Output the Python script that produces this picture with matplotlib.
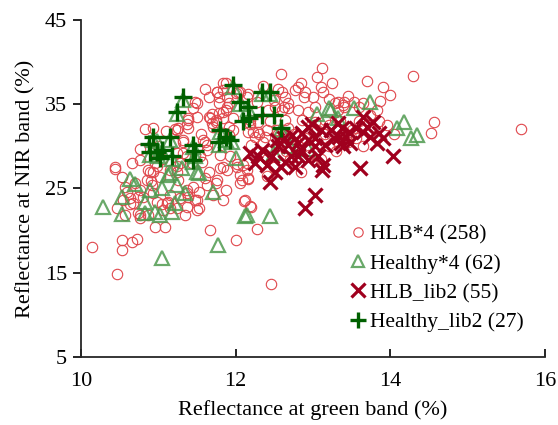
import matplotlib
matplotlib.use("Agg")
import matplotlib.pyplot as plt

# ---------------- data ----------------
hlb4_x = [10.44, 10.53, 10.70, 10.89, 10.92, 10.60, 10.76, 10.63, 10.74, 10.47, 10.63, 10.57, 10.76, 10.76, 10.87,
          10.96, 11.09, 10.98, 11.13, 11.15, 11.15, 11.06, 11.05, 11.24, 11.28, 11.37, 11.39, 11.52, 11.50, 11.52,
          11.45, 11.35, 11.67, 11.71, 10.14, 10.53, 10.53, 10.66, 10.73, 10.47, 10.93, 11.24, 11.26, 11.15, 10.90,
          12.02, 12.06, 12.06, 12.16, 11.83, 11.80, 11.87, 12.11, 12.20, 12.28, 12.01, 12.46, 11.74,
          11.76, 11.65, 11.48, 11.50, 11.67, 11.74, 11.37, 11.39, 11.22, 10.83, 10.93, 10.76, 11.32, 11.61, 11.63,
          10.44, 10.98, 11.24, 11.37, 11.70,
          13.12, 12.59, 13.25, 12.84, 12.81, 13.10, 12.90, 13.13, 12.60, 12.64, 12.77, 13.00, 12.88, 12.68, 12.62,
          13.03, 12.81, 12.93, 13.29, 13.39, 13.32, 12.86, 13.03, 13.16, 12.60, 12.64, 12.67, 12.54, 12.41, 12.29,
          12.19, 12.16, 12.25, 12.38, 12.15, 12.16, 12.03, 12.00, 11.84, 11.83, 11.78, 11.89, 11.89, 11.78, 11.84,
          11.74, 11.96, 12.19, 12.28, 12.49, 12.67, 12.51, 12.42, 11.96, 11.91, 11.83, 12.29, 12.45,
          13.70, 14.29, 13.91, 14.00, 13.87, 13.32, 13.40, 13.40, 13.59, 13.83, 14.56, 14.52, 15.69, 13.74, 13.64,
          13.53, 13.20,
          11.24, 11.32, 11.22, 11.58, 11.63, 11.65, 11.70, 11.78, 11.84, 11.91, 11.87, 12.06, 11.50, 11.39, 11.48,
          11.57, 11.65, 12.15, 10.87, 10.96, 10.85, 11.02, 11.61, 11.32, 11.80, 11.93, 12.02, 11.00,
          12.15, 12.10, 12.16, 12.08, 12.12, 12.19,
          12.45, 12.60, 12.75, 12.90, 13.05, 13.20, 13.35, 13.50, 13.60, 13.75, 13.85, 13.45, 13.20, 12.95, 12.70,
          12.50, 12.85, 13.10, 13.30, 13.65, 13.95, 14.05, 12.35, 12.55, 13.15, 13.40, 13.55, 12.80, 12.65, 12.40,
          11.87, 11.76, 11.26, 11.39, 11.71, 11.91, 12.22, 12.30, 11.89, 11.76, 11.63, 11.28, 11.44, 11.54, 11.24,
          10.76, 10.66, 10.57, 10.80, 10.54, 10.67, 10.93, 11.11, 11.37, 11.48, 11.84, 11.37, 11.50, 10.74, 11.05,
          10.95, 11.10, 11.55, 11.45, 11.60, 12.35, 12.55, 13.45, 13.05, 12.20, 12.40]
hlb4_y = [27.3, 26.4, 25.7, 26.9, 25.4, 24.6, 24.8, 23.9, 24.0, 22.7, 23.1, 21.9, 21.9, 21.5, 21.9,
          20.4, 20.4, 23.4, 23.4, 24.2, 22.7, 22.5, 23.1, 22.7, 23.9, 24.8, 24.0, 24.6, 23.6, 22.7,
          25.2, 21.9, 20.1, 24.2, 18.0, 18.9, 17.7, 18.7, 19.0, 14.9, 27.0, 26.9, 26.0, 27.2, 25.9,
          27.6, 26.6, 25.7, 26.1, 27.6, 27.4, 24.8, 23.5, 22.8, 20.2, 18.9, 13.7, 25.7,
          36.5, 35.8, 35.3, 33.5, 33.4, 32.9, 32.6, 32.2, 32.1, 32.1, 32.2, 29.7, 30.8, 30.5, 29.6,
          27.6, 27.7, 27.7, 28.8, 33.8,
          39.3, 38.6, 37.5, 37.5, 37.1, 37.0, 36.4, 36.4, 36.4, 35.9, 36.7, 35.8, 35.8, 35.2, 34.7,
          34.7, 34.3, 34.1, 35.2, 34.9, 34.3, 33.1, 32.9, 33.1, 34.3, 33.1, 32.2, 32.0, 32.0, 31.7,
          32.6, 31.7, 31.1, 31.1, 35.9, 36.2, 36.5, 36.3, 36.7, 37.5, 35.9, 35.9, 34.7, 35.2, 34.1,
          33.1, 33.4, 33.1, 35.3, 35.5, 34.6, 34.7, 34.3, 32.0, 31.4, 31.6, 32.9, 33.0,
          37.8, 38.3, 37.0, 36.1, 35.4, 35.3, 35.3, 34.7, 34.7, 34.3, 32.9, 31.6, 32.1, 33.7, 35.2,
          35.3, 35.6,
          32.0, 30.5, 30.4, 30.8, 30.2, 33.5, 32.8, 34.0, 33.4, 35.2, 34.3, 36.4, 35.2, 33.1, 29.0,
          28.2, 27.0, 27.2, 27.2, 28.0, 26.0, 26.4, 26.3, 29.2, 29.0, 28.8, 27.9, 30.0,
          28.0, 27.8, 26.3, 26.0, 23.6, 22.9,
          29.5, 30.5, 31.5, 31.0, 32.0, 32.5, 33.0, 32.0, 33.0, 32.0, 33.0, 30.5, 30.0, 29.0, 28.5,
          27.5, 27.0, 28.5, 29.5, 30.0, 32.5, 31.5, 30.5, 31.5, 31.5, 31.7, 31.0, 30.0, 29.5, 28.5,
          37.5, 36.4, 32.2, 33.4, 32.3, 32.3, 31.7, 31.5, 27.2, 26.0, 25.4, 28.0, 28.0, 28.8, 29.2,
          28.4, 28.0, 25.2, 24.0, 23.6, 23.3, 24.5, 23.3, 24.5, 23.6, 23.6, 22.8, 22.5, 22.1, 28.5,
          29.5, 31.8, 31.5, 34.5, 36.8, 37.2, 36.8, 36.0, 38.2, 30.2, 26.5]

healthy4_x = [10.28, 10.53, 10.63, 10.53, 10.89, 11.05, 10.83, 10.96, 11.02, 11.24, 11.22, 11.50, 11.71, 11.31,
              11.13, 11.05, 11.77, 12.12, 12.15, 12.45, 11.15, 11.52, 11.18, 10.83, 12.49,
              11.32, 11.24, 10.93, 10.98, 11.15, 10.89, 11.00, 11.18, 11.05, 11.45, 11.48, 11.45, 11.80, 11.87,
              11.78, 11.97, 12.06, 12.34, 12.45, 12.16, 12.58, 11.95, 12.00,
              13.20, 13.23, 13.32, 13.53, 13.74, 14.17, 14.09, 14.26, 14.35, 12.93,
              10.70, 11.35, 12.70, 13.05]
healthy4_y = [22.8, 22.0, 26.1, 24.0, 24.8, 25.0, 23.4, 22.2, 21.9, 25.4, 23.3, 26.9, 24.6, 27.4,
              26.6, 16.8, 18.3, 21.7, 21.8, 21.7, 26.8, 26.8, 22.2, 22.1, 29.2,
              35.5, 33.8, 30.8, 30.6, 30.8, 29.0, 28.8, 28.5, 29.3, 29.9, 28.9, 28.1, 31.7, 30.8,
              30.2, 37.0, 35.0, 36.2, 36.2, 34.4, 31.9, 30.5, 28.6,
              34.6, 34.3, 33.4, 34.6, 35.3, 32.9, 32.2, 31.0, 31.4, 29.7,
              25.5, 24.5, 30.0, 33.8]

hlb_lib2_x = [12.29, 12.25, 12.45, 12.51, 12.58, 12.64, 12.67, 12.77, 12.84, 12.93, 13.03, 12.99, 13.13, 13.12,
              13.03, 12.90, 13.23, 13.32, 13.38, 13.42, 13.48, 13.61, 13.64, 13.70, 13.78, 13.85, 13.91, 14.03,
              13.03, 13.16, 12.86, 12.93, 12.73, 12.80, 12.55, 12.62, 12.47, 12.41, 13.39, 13.46, 13.33, 13.74,
              13.83, 13.65, 12.93, 13.10, 13.27, 12.71, 12.81, 12.19, 12.34, 13.07, 13.36, 13.55, 12.54]
hlb_lib2_y = [28.8, 28.0, 25.8, 26.9, 27.6, 28.2, 30.2, 27.5, 29.6, 28.4, 31.0, 32.6, 27.8, 27.2,
              24.2, 22.7, 32.0, 32.8, 32.2, 31.1, 30.4, 27.4, 33.5, 32.3, 32.9, 31.6, 31.0, 28.8,
              30.0, 30.2, 31.6, 32.3, 31.4, 30.4, 30.0, 31.0, 28.8, 27.8, 30.0, 31.7, 31.1, 31.1,
              30.4, 31.7, 30.8, 32.0, 31.0, 28.8, 28.8, 29.2, 29.6, 28.8, 30.4, 32.2, 30.8]

healthy_lib2_x = [11.32, 11.24, 10.93, 11.15, 10.89, 10.98, 11.18, 11.05, 11.45, 11.48, 11.45, 11.80, 11.87,
                  11.78, 11.93, 11.97, 12.06, 12.16, 12.17, 12.34, 12.45, 12.34, 12.49, 12.58, 11.02, 10.88, 12.10]
healthy_lib2_y = [35.8, 34.1, 31.1, 31.1, 29.3, 29.3, 28.8, 29.6, 30.2, 29.4, 28.4, 32.0, 31.1,
                  30.5, 30.8, 37.3, 35.3, 34.7, 33.4, 36.5, 36.5, 33.7, 33.7, 32.2, 28.6, 30.3, 33.0]

labels = ["HLB*4 (258)", "Healthy*4 (62)", "HLB_lib2 (55)", "Healthy_lib2 (27)"]
x_ticks = [10, 12, 14, 16]
y_ticks = [5, 15, 25, 35, 45]

# ---------------- plot ----------------
plt.rcParams['font.family'] = ['Liberation Serif', 'DejaVu Serif']
fig = plt.figure(figsize=(5.58, 4.25), dpi=100)
ax = fig.add_axes([0.145, 0.160, 0.832, 0.793])

ax.plot(hlb4_x, hlb4_y, linestyle='none', marker='o', ms=7.5, mfc='none',
        mec='#E0474C', mew=0.8, label=labels[0])
ax.plot(healthy4_x, healthy4_y, linestyle='none', marker='^', ms=9.5, mfc='none',
        mec='#4F9A4F', mew=1.6, alpha=0.85, label=labels[1])
ax.plot(hlb_lib2_x, hlb_lib2_y, linestyle='none', marker='x', ms=10.5, mec='#A0001E',
        mew=2.3, label=labels[2])
ax.plot(healthy_lib2_x, healthy_lib2_y, linestyle='none', marker='+', ms=12.5, mec='#006000',
        mew=2.4, label=labels[3])

ax.set_xlim(10, 16)
ax.set_ylim(5, 45)
ax.set_xticks(x_ticks)
ax.set_yticks(y_ticks)
ax.spines['top'].set_visible(False)
ax.spines['right'].set_visible(False)
for s in ['left', 'bottom']:
    ax.spines[s].set_linewidth(1.3)
    ax.spines[s].set_color('#262626')
ax.tick_params(axis='x', direction='in', length=6, width=1.2, labelsize=16, pad=11)
ax.tick_params(axis='y', direction='out', length=6, width=1.2, labelsize=16, pad=4)
ax.set_xlabel("Reflectance at green band (%)", fontsize=16, labelpad=6)
ax.set_ylabel("Reflectance at NIR band (%)", fontsize=16, labelpad=7)

leg = ax.legend(loc='upper left', bbox_to_anchor=(0.56, 0.418), frameon=False,
                fontsize=15.5, handlelength=0.8, handletextpad=0.15, labelspacing=0.42,
                borderaxespad=0, markerscale=0.9)

fig.savefig("out.png", dpi=100)
